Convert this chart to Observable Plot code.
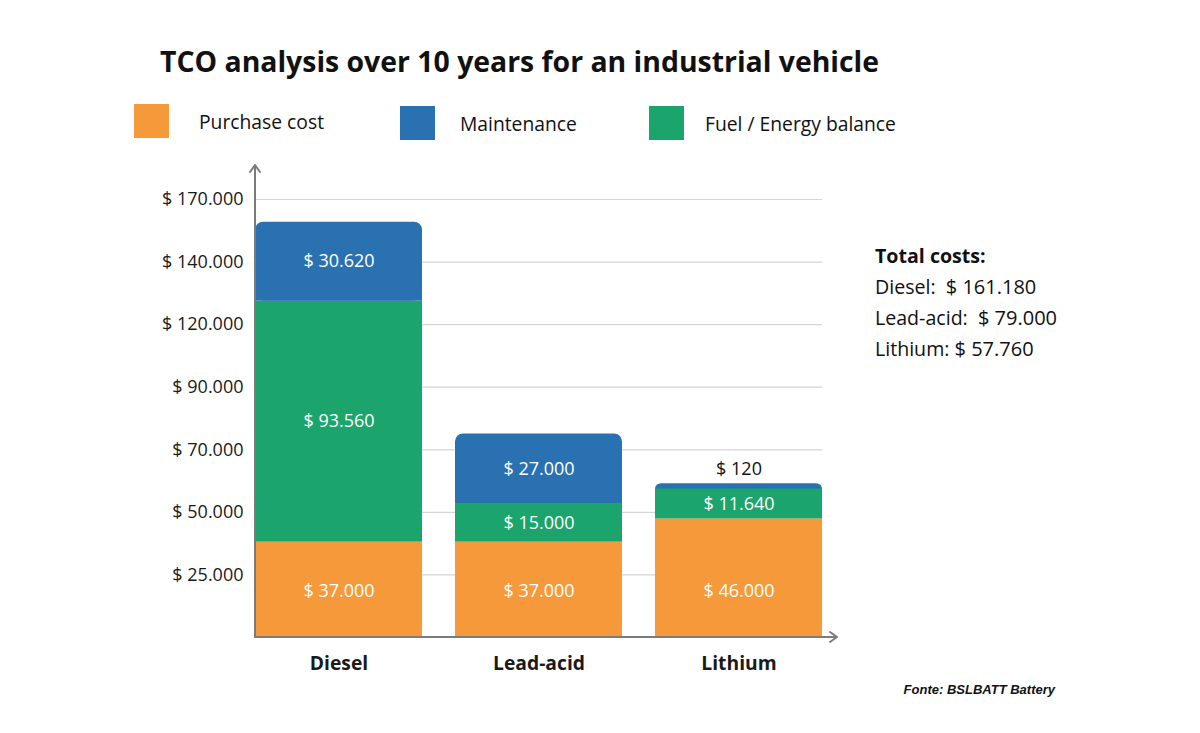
<!DOCTYPE html>
<html>
<head>
<meta charset="utf-8">
<script src="https://cdn.jsdelivr.net/npm/d3@7"></script>
<script src="https://cdn.jsdelivr.net/npm/@observablehq/plot@0.6"></script>
<style>
  html, body { margin: 0; padding: 0; background: #fff; }
  #page { position: relative; width: 1200px; height: 733px; font-family: "Open Sans", sans-serif; color: #111; overflow: hidden; }
  #title { position: absolute; left: 160px; top: 47px; margin: 0; font-size: 28.4px; line-height: 28px; font-weight: 700; white-space: nowrap; }
  .legend-item { position: absolute; display: flex; align-items: center; height: 34px; font-size: 19.3px; white-space: nowrap; }
  .legend-item .sw { width: 35px; height: 34px; }
  #chart { position: absolute; left: 0; top: 150px; }
  #totals { position: absolute; left: 875px; top: 240px; font-size: 19.6px; line-height: 31px; white-space: pre; }
  #totals .head { font-weight: 700; }
  #totals .val { font-size: 20px; }
  #source { position: absolute; right: 145px; top: 682px; font-family: "Liberation Sans", Arial, sans-serif; font-size: 13px; font-weight: 700; font-style: italic; line-height: 16px; }
  #chart g[aria-label="x-axis tick label"] text { font-weight: 700; }
</style>
</head>
<body>
<div id="page">
  <h1 id="title">TCO analysis over 10 years for an industrial vehicle</h1>
  <div id="legend"></div>
  <div id="chart"></div>
  <div id="totals"></div>
  <div id="source">Fonte: BSLBATT Battery</div>
</div>
<script>
// Ten-year total cost of ownership per vehicle type, split by cost component
const vehicles = ["Diesel", "Lead-acid", "Lithium"];
const purchaseCost = [37000, 37000, 46000];
const fuelEnergy = [93560, 15000, 11640];
const maintenance = [30620, 27000, 120];

// Legend order and colours of the cost components
const seriesNames = ["Purchase cost", "Maintenance", "Fuel / Energy balance"];
const seriesColors = ["#F6993A", "#2A71B2", "#1BA46C"];

// Value-axis labels, one per gridline from bottom to top
const yTickLabels = ["$ 25.000", "$ 50.000", "$ 70.000", "$ 90.000", "$ 120.000", "$ 140.000", "$ 170.000"];
const yAxisMax = 170000;

const money = v => "$ " + d3.format(",")(v).replace(/,/g, ".");

// Stack rows: purchase at the bottom, fuel in the middle, maintenance on top
const rows = [];
vehicles.forEach((vehicle, i) => {
  let base = 0;
  [["Purchase cost", purchaseCost[i]], ["Fuel / Energy balance", fuelEnergy[i]], ["Maintenance", maintenance[i]]]
    .forEach(([series, value], level) => {
      rows.push({vehicle, series, value, level, lo: base, hi: base + value, mid: base + value / 2});
      base += value;
    });
});
const totals = vehicles.map(v => d3.sum(rows.filter(r => r.vehicle === v), r => r.value));

// Evenly spaced gridlines carrying the label list above
const yTicks = yTickLabels.map((_, i) => (i + 1) * yAxisMax / yTickLabels.length);
const labelByTick = new Map(yTicks.map((t, i) => [t, yTickLabels[i]]));

const lower = rows.filter(r => r.level < 2);
const topThick = rows.filter(r => r.level === 2 && r.value >= 5000);
const topThin = rows.filter(r => r.level === 2 && r.value < 5000);
const xy = {x: "vehicle", y1: "lo", y2: "hi", fill: "series"};

const plot = Plot.plot({
  width: 1200,
  height: 550,
  marginLeft: 255,
  marginRight: 378,
  marginTop: 49,
  marginBottom: 63,
  style: {fontFamily: "'Open Sans', sans-serif", fontSize: "18px", color: "#1a1a1a", background: "transparent", overflow: "visible"},
  x: {domain: vehicles, paddingInner: 0.165, paddingOuter: 0, label: null},
  y: {domain: [0, yAxisMax], label: null},
  color: {domain: seriesNames, range: seriesColors},
  marks: [
    Plot.gridY(yTicks, {stroke: "#d5d5d5", strokeOpacity: 1, strokeWidth: 1.2}),
    // very thin top segments get a small rounded cap so they stay visible
    Plot.barY(topThin, {...xy, rx: 6, insetTop: -5, insetBottom: -6}),
    Plot.barY(lower, xy),
    Plot.barY(topThick, {...xy, rx: 8}),
    Plot.barY(topThick, {...xy, insetTop: 8}),
    Plot.text(rows.filter(r => r.level > 0 && r.value >= 5000), {x: "vehicle", y: "mid", text: d => money(d.value), fill: "white", fontSize: 18}),
    Plot.text(rows.filter(r => r.level === 0), {x: "vehicle", y: 0, dy: -46, text: d => money(d.value), fill: "white", fontSize: 18}),
    Plot.text(topThin, {x: "vehicle", y: "hi", dy: -19, text: d => money(d.value), fill: "#111", fontSize: 18}),
    Plot.axisY(yTicks, {tickSize: 0, tickPadding: 12, tickFormat: d => labelByTick.get(d), label: null, fontSize: 18}),
    Plot.axisX({tickSize: 0, tickPadding: 19, label: null, fontSize: 19.3})
  ]
});

// Axis lines with arrowheads at their open ends
const xs = plot.scale("x"), ys = plot.scale("y");
const x0 = xs.range[0], x1 = xs.range[1] + 15;
const y0 = ys.apply(0), yTop = ys.apply(yAxisMax) - 34;
const axes = d3.select(plot).append("g")
  .attr("fill", "none").attr("stroke", "#7b7b7b").attr("stroke-width", 2)
  .attr("stroke-linecap", "round").attr("stroke-linejoin", "round");
axes.append("path").attr("d", `M${x0},${y0}V${yTop}M${x0 - 5},${yTop + 7}L${x0},${yTop}L${x0 + 5},${yTop + 7}`);
axes.append("path").attr("d", `M${x0},${y0}H${x1}M${x1 - 7},${y0 - 5}L${x1},${y0}L${x1 - 7},${y0 + 5}`);

document.getElementById("chart").appendChild(plot);

// Legend
const legendPos = [[134, 104, 199], [400, 106, 460], [649, 106, 705]];
const legend = document.getElementById("legend");
seriesNames.forEach((name, i) => {
  const [sx, sy, tx] = legendPos[i];
  const sw = document.createElement("div");
  sw.className = "legend-item";
  sw.style.left = sx + "px"; sw.style.top = sy + "px";
  sw.innerHTML = `<div class="sw" style="background:${seriesColors[i]}"></div>`;
  legend.appendChild(sw);
  const lab = document.createElement("div");
  lab.className = "legend-item";
  lab.style.left = tx + "px"; lab.style.top = sy + "px";
  lab.textContent = name;
  legend.appendChild(lab);
});

// Totals panel
const gaps = ["  ", "  ", " "];
document.getElementById("totals").innerHTML =
  `<div class="head">Total costs:</div>` +
  vehicles.map((v, i) => `<div>${v}:${gaps[i]}<span class="val">${money(totals[i])}</span></div>`).join("");
</script>
</body>
</html>
